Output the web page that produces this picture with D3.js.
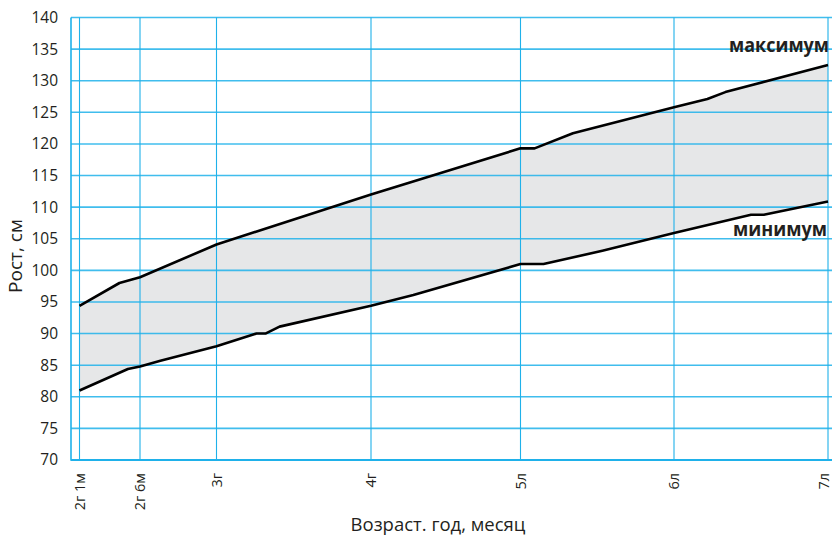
<!DOCTYPE html>
<html>
<head>
<meta charset="utf-8">
<script src="https://cdn.jsdelivr.net/npm/d3@7/dist/d3.min.js"></script>
<style>
body { margin: 0; background: #fff; }
text { font-family: "Open Sans", sans-serif; fill: #231f20; }
</style>
</head>
<body>
<div id="chart_area"></div>
<script>
// age in months, height in cm
var maxAge = [25, 28.3, 30, 36, 48, 60, 61.1, 64.1, 72, 74.6, 76, 84];
var maxHeight = [94.4, 98.0, 98.9, 104.1, 112.0, 119.3, 119.3, 121.7, 125.8, 127.1, 128.2, 132.5];

var minAge = [25, 29, 30, 31.6, 36, 39.1, 39.8, 40.9, 48, 51.4, 60, 61.8, 66.4, 72, 78, 79, 84];
var minHeight = [81.0, 84.4, 84.8, 85.7, 88.0, 90.0, 90.0, 91.1, 94.4, 96.1, 101.0, 101.0, 103.1, 105.9, 108.8, 108.8, 110.9];

var tickMonths = [25, 30, 36, 48, 60, 72, 84];
var tickLabels = ["2г 1м", "2г 6м", "3г", "4г", "5л", "6л", "7л"];
var yTicks = [70, 75, 80, 85, 90, 95, 100, 105, 110, 115, 120, 125, 130, 135, 140];

var sFrameWidth = 835;
var sFrameHeight = 536;

var sFrame = d3.select("#chart_area").append("svg")
	.attr("width", sFrameWidth)
	.attr("height", sFrameHeight);

var sLeft = 71, sRight = 832, sTop = 17.5, sBottom = 460;

// the printed axis is not quite even, so map the tick ages piece by piece
var x = d3.scaleLinear()
	.domain(tickMonths)
	.range([79.5, 140, 216.5, 371, 520.5, 674, 828]);

var y = d3.scaleLinear().domain([70, 140]).range([sBottom, sTop]);

var sGridColor = "#1fb1ea";

// band between the two lines
var sBand = maxAge.map(function(a, i){ return {age: a, h: maxHeight[i]}; });
var sMinPts = minAge.map(function(a, i){ return {age: a, h: minHeight[i]}; });
var sPoly = sBand.map(function(d){ return [x(d.age), y(d.h)]; })
	.concat(sMinPts.slice().reverse().map(function(d){ return [x(d.age), y(d.h)]; }));

sFrame.append("path")
	.attr("d", "M" + sPoly.join("L") + "Z")
	.attr("fill", "#e6e7e8");

// grid
sFrame.append("g").selectAll("line").data(yTicks).enter().append("line")
	.attr("x1", sLeft).attr("x2", sRight)
	.attr("y1", function(d){ return y(d); }).attr("y2", function(d){ return y(d); })
	.attr("stroke", sGridColor).attr("stroke-width", 1.6).attr("stroke-opacity", 0.85);

sFrame.append("g").selectAll("line").data(tickMonths).enter().append("line")
	.attr("x1", function(d){ return x(d); }).attr("x2", function(d){ return x(d); })
	.attr("y1", sTop).attr("y2", sBottom)
	.attr("stroke", sGridColor).attr("stroke-width", 1.1);

sFrame.append("line")
	.attr("x1", sLeft).attr("x2", sLeft).attr("y1", sTop).attr("y2", sBottom + 0.8)
	.attr("stroke", sGridColor).attr("stroke-width", 1.6);
sFrame.append("line")
	.attr("x1", sLeft).attr("x2", sRight).attr("y1", sBottom).attr("y2", sBottom)
	.attr("stroke", sGridColor).attr("stroke-width", 1.8);

// the two curves
var sLine = d3.line()
	.x(function(d){ return x(d.age); })
	.y(function(d){ return y(d.h); });

[sBand, sMinPts].forEach(function(pts){
	sFrame.append("path")
		.attr("d", sLine(pts))
		.attr("fill", "none")
		.attr("stroke", "#000")
		.attr("stroke-width", 2.6)
		.attr("stroke-linejoin", "round");
});

// y axis labels
var sYAxis = sFrame.append("g")
	.attr("transform", "translate(" + sLeft + ",0)")
	.call(d3.axisLeft(y).tickValues(yTicks).tickSize(0).tickPadding(13));
sYAxis.select(".domain").remove();
sYAxis.selectAll("text").attr("font-size", 15.5).style("font-family", "'Open Sans', sans-serif").attr("fill", "#231f20");

// x axis labels, turned on their side (last one pulled in from the edge)
sFrame.append("g").selectAll("text").data(tickMonths).enter().append("text")
	.attr("transform", function(d){ return "translate(" + Math.min(x(d), 824) + ",473) rotate(-90)"; })
	.attr("text-anchor", "end")
	.attr("dy", "0.36em")
	.attr("font-size", 14.5)
	.text(function(d, i){ return tickLabels[i]; });

// titles
sFrame.append("text")
	.attr("x", 438).attr("y", 531)
	.attr("text-anchor", "middle")
	.attr("font-size", 18.5)
	.text("Возраст. год, месяц");

sFrame.append("text")
	.attr("transform", "translate(22,256) rotate(-90)")
	.attr("text-anchor", "middle")
	.attr("font-size", 19)
	.text("Рост, см");

// curve names
sFrame.append("text")
	.attr("x", 829).attr("y", 52)
	.attr("text-anchor", "end")
	.attr("font-size", 19).attr("font-weight", "bold")
	.attr("textLength", 100).attr("lengthAdjust", "spacingAndGlyphs")
	.text("максимум");

sFrame.append("text")
	.attr("x", 827).attr("y", 236)
	.attr("text-anchor", "end")
	.attr("font-size", 19).attr("font-weight", "bold")
	.attr("textLength", 94).attr("lengthAdjust", "spacingAndGlyphs")
	.text("минимум");
</script>
</body>
</html>
